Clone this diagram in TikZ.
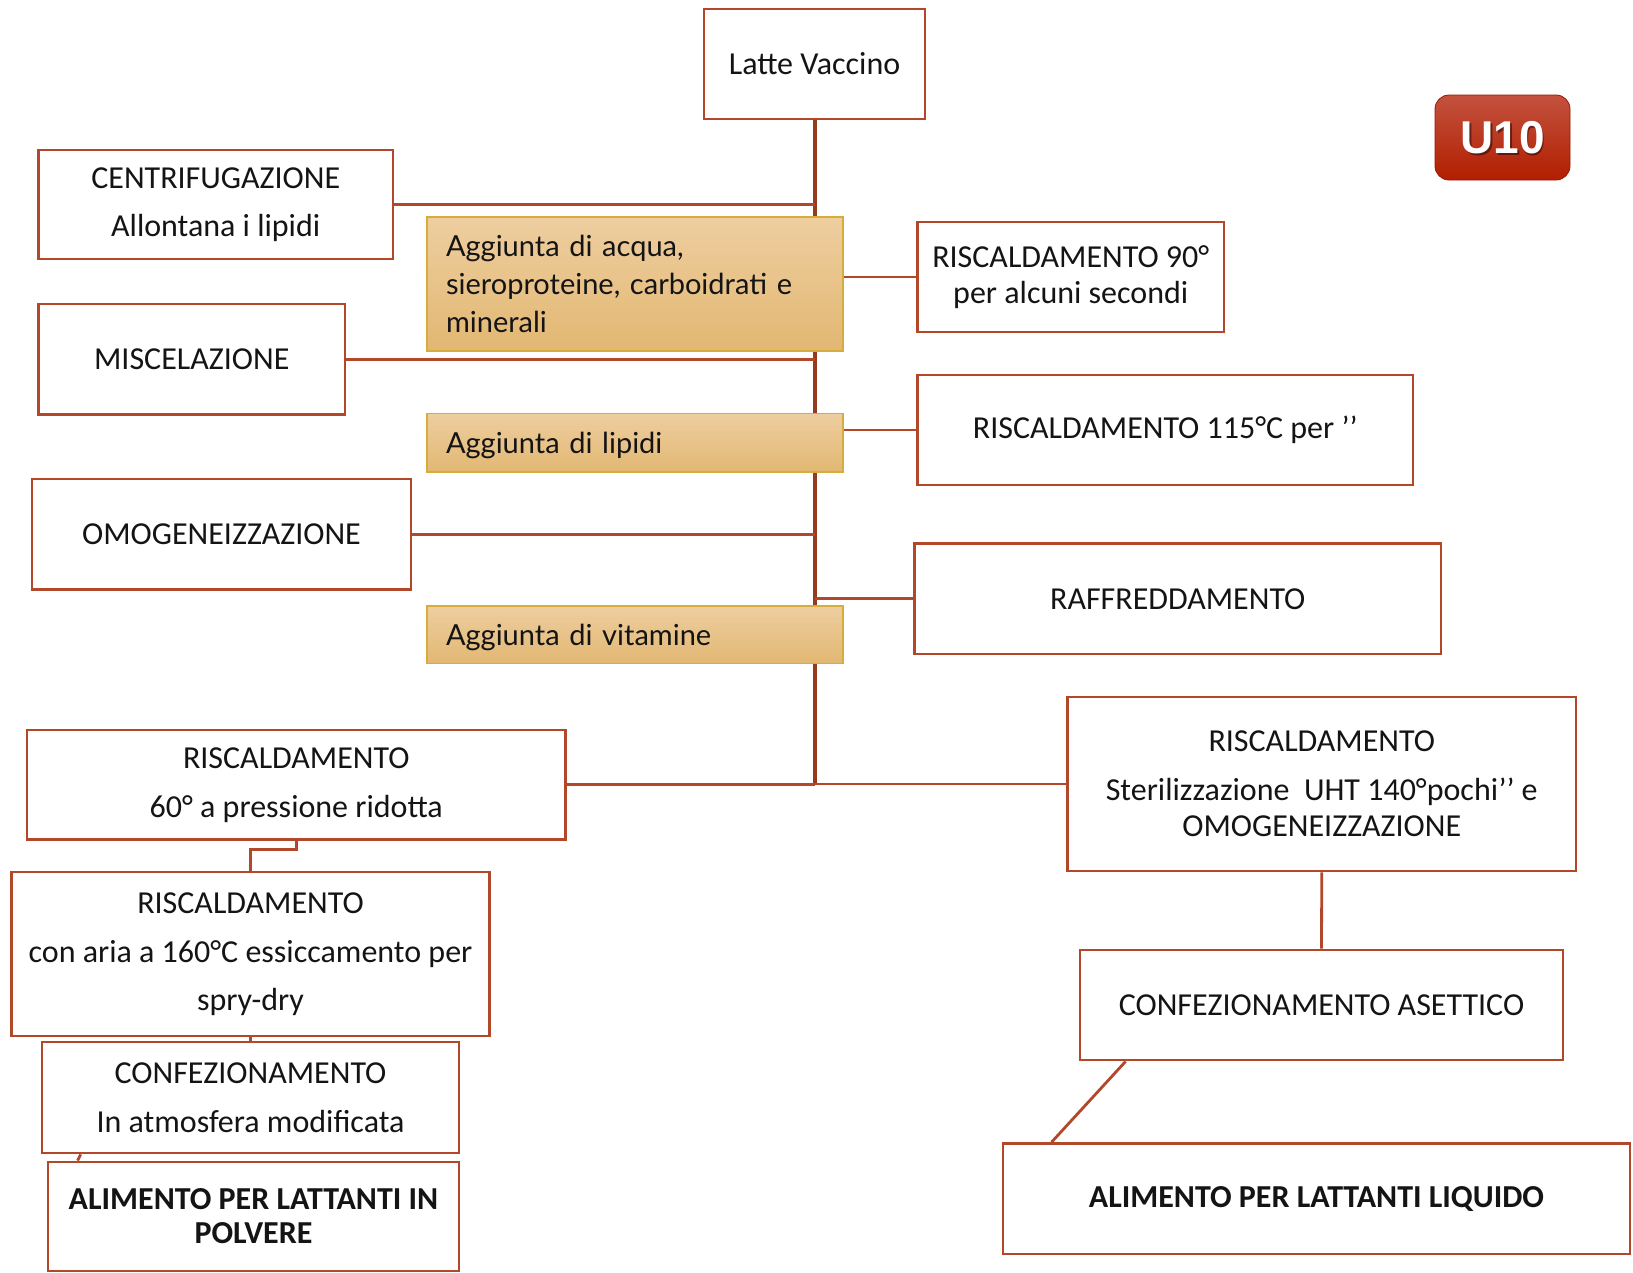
\documentclass[tikz,border=0pt]{standalone}
\usepackage{fontspec}
\setmainfont{Carlito}
\newfontfamily\gillf{Lato}
\newfontfamily\arialf{Liberation Sans}
\usetikzlibrary{calc,backgrounds}
\definecolor{boxred}{RGB}{178,72,42}
\definecolor{spinec}{RGB}{150,58,32}
\definecolor{oratop}{RGB}{238,206,160}
\definecolor{orabot}{RGB}{226,183,114}
\definecolor{oraline}{RGB}{214,172,58}
\definecolor{badgetop}{RGB}{195,82,62}
\definecolor{badgebot}{RGB}{178,30,0}
\definecolor{txt}{RGB}{20,20,20}
\begin{document}
\begin{tikzpicture}[x=1pt,y=-1pt,
  wbox/.style={draw=boxred, line width=2.8pt, fill=white, align=center, inner sep=2pt, text=txt,
    font=\fontsize{32}{36}\selectfont},
  obox/.style={draw=oraline, line width=1.4pt, top color=oratop, bottom color=orabot, align=left,
    inner xsep=19pt, inner ysep=2pt, text width=378pt, minimum width=416pt, text=txt,
    font=\gillf\fontsize{29}{38}\selectfont},
  oneline/.style={text height=24pt, text depth=2pt},
  conn/.style={draw=boxred, line width=2.8pt},
  spineline/.style={draw=spinec, line width=4pt},
]
\useasboundingbox (0,0) rectangle (1633,1272);

% nodes
\node[wbox, minimum width=221pt, minimum height=110pt] (latte) at (814.5,64) {Latte Vaccino};
\node[wbox, minimum width=354.5pt, minimum height=109pt] (centr) at (215.75,204.5) {CENTRIFUGAZIONE\\[12pt]Allontana i lipidi};
\node[obox, minimum height=134pt] (ora1) at (635,284) {Aggiunta di acqua,\\sieroproteine, carboidrati e\\minerali};
\node[wbox, minimum width=306.5pt, minimum height=110pt] (risc90) at (1070.75,277) {RISCALDAMENTO 90°\\per alcuni secondi};
\node[wbox, minimum width=306.5pt, minimum height=110.5pt] (misc) at (191.75,359.25) {MISCELAZIONE};
\node[obox, oneline, minimum height=58.5pt] (ora2) at (635,442.75) {Aggiunta di lipidi};
\node[wbox, minimum width=495.5pt, minimum height=110pt] (risc115) at (1165.25,430) {RISCALDAMENTO 115°C per ’’};
\node[wbox, minimum width=379pt, minimum height=110.5pt] (omog) at (221.5,534.25) {OMOGENEIZZAZIONE};
\node[wbox, minimum width=526.5pt, minimum height=110.5pt] (raff) at (1177.75,598.75) {RAFFREDDAMENTO};
\node[obox, oneline, minimum height=57.5pt] (ora3) at (635,634.75) {Aggiunta di vitamine};
\node[wbox, minimum width=538.5pt, minimum height=109.5pt] (risc60) at (296.25,784.75) {RISCALDAMENTO\\[13pt]60° a pressione ridotta};
\node[wbox, minimum width=508.5pt, minimum height=174pt] (uht) at (1321.75,784) {RISCALDAMENTO\\[13pt]Sterilizzazione\ \ UHT 140°pochi’’ e\\OMOGENEIZZAZIONE};
\node[wbox, minimum width=478pt, minimum height=164pt] (risc160) at (250.5,954) {RISCALDAMENTO\\[13pt]con aria a 160°C essiccamento per\\[12pt]spry-dry};
\node[wbox, minimum width=417pt, minimum height=111pt] (conf) at (250.5,1097.5) {CONFEZIONAMENTO\\[13pt]In atmosfera modificata};
\node[wbox, minimum width=411pt, minimum height=109pt, font=\bfseries\fontsize{32}{34}\selectfont] (polvere) at (253.5,1216.5) {ALIMENTO PER LATTANTI IN\\POLVERE};
\node[wbox, minimum width=483pt, minimum height=110pt] (asettico) at (1321.5,1005) {CONFEZIONAMENTO ASETTICO};
\node[wbox, minimum width=627pt, minimum height=110.5pt, font=\bfseries\fontsize{32}{34}\selectfont] (liquido) at (1316.5,1198.75) {ALIMENTO PER LATTANTI LIQUIDO};

% badge
\node[rounded corners=14pt, top color=badgetop, bottom color=badgebot, draw=badgebot!85!black, line width=0.8pt,
  minimum width=135pt, minimum height=85pt] (badge) at (1502.5,137.5) {};
\node[font=\arialf\bfseries\fontsize{46}{46}\selectfont, text=black, opacity=0.45] (badgeshadow) at ($(badge.center)+(1.8,2.2)$) {U10};
\node[font=\arialf\bfseries\fontsize{46}{46}\selectfont, text=white] (badgetext) at (badge.center) {U10};

% connectors
\begin{pgfonlayer}{background}
\draw[spineline] (latte.south) -- (latte.south |- uht.west);
\draw[conn] (centr.east) -- (centr.east -| latte.south);
\draw[conn] (misc.east) -- (misc.east -| latte.south);
\draw[conn] (omog.east) -- (omog.east -| latte.south);
\draw[conn] (raff.west) -- (raff.west -| latte.south);
\draw[conn] (risc60.east) -- (risc60.east -| latte.south);
\draw[conn] (uht.west) -- (uht.west -| latte.south);
\draw[conn] (risc90.west -| ora1.east) -- (risc90.west);
\draw[conn] (risc115.west -| ora2.east) -- (risc115.west);
\draw[conn] (risc60.south) -- ++(0,8.5) -| (risc160.north);
\draw[conn] (risc160.south) -- (conf.north);
\draw[conn] ($(conf.south west)+(40,0)$) -- ($(polvere.north west)+(31,0)$);
\draw[conn] (uht.south) -- (asettico.north);
\draw[conn] ($(asettico.south west)+(47,0)$) -- ($(liquido.north west)+(50,0)$);
\end{pgfonlayer}
\end{tikzpicture}
\end{document}
